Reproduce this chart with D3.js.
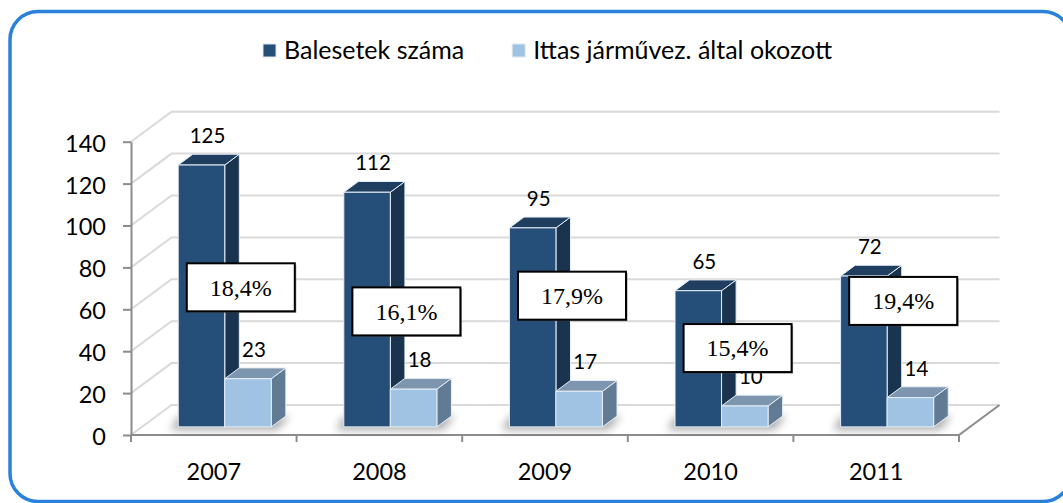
<!DOCTYPE html>
<html>
<head>
<meta charset="utf-8">
<script src="https://cdn.jsdelivr.net/npm/d3@7"></script>
<style>
  html, body { margin: 0; padding: 0; background: #fff; }
  svg { display: block; }
  text { font-family: Lato, "Open Sans", sans-serif; fill: #000; }
</style>
</head>
<body>
<svg id="chart"></svg>
<script>
// data
var years = ["2007", "2008", "2009", "2010", "2011"];
var balesetek = [125, 112, 95, 65, 72];
var ittas = [23, 18, 17, 10, 14];
var aranyok = ["18,4%", "16,1%", "17,9%", "15,4%", "19,4%"];
var aranyLevel = [70.5, 59, 66.5, 41.5, 64];   // where each % box sits, in axis units
var seriesNames = ["Balesetek száma", "Ittas járművez. által okozott"];
var yTicks = [0, 20, 40, 60, 80, 100, 120, 140];

var width = 1063, height = 503;
var plot = {left: 131, right: 959, top: 141.7, bottom: 435};
var depth = {dx: 40.5, dy: -30};      // wall depth vector
var frontF = 0.27, barF = 0.36;       // bar front position / bar depth as part of wall depth

var colors = [
  {front: "#254e78", top: "#1f3e60", side: "#1a334f"},
  {front: "#a0c3e3", top: "#7d95ae", side: "#617b94"}
];

var svg = d3.select("#chart")
  .attr("width", width)
  .attr("height", height);

var defs = svg.append("defs");
defs.append("filter").attr("id", "blur")
  .attr("x", "-20%").attr("y", "-50%").attr("width", "140%").attr("height", "200%")
  .append("feGaussianBlur").attr("stdDeviation", 4);

var x = d3.scaleBand()
  .domain(years)
  .range([plot.left, plot.right]);

var xs = d3.scaleBand()
  .domain([0, 1])
  .range([0, x.bandwidth()])
  .paddingOuter(0.78);

var y = d3.scaleLinear()
  .domain([0, 140])
  .range([plot.bottom, plot.top]);

// back wall + left wall grid
var grid = svg.append("g").attr("class", "grid");
yTicks.forEach(function(t) {
  grid.append("path")
    .attr("d", "M" + plot.left + "," + y(t) +
               "L" + (plot.left + depth.dx) + "," + (y(t) + depth.dy) +
               "L" + (plot.right + depth.dx) + "," + (y(t) + depth.dy))
    .attr("fill", "none")
    .attr("stroke", "#d9d9d9")
    .attr("stroke-width", 2);
});

// floor edges
svg.append("path")
  .attr("d", "M" + plot.left + "," + plot.bottom +
             "L" + plot.right + "," + plot.bottom +
             "L" + (plot.right + depth.dx) + "," + (plot.bottom + depth.dy))
  .attr("fill", "none")
  .attr("stroke", "#8c8c8c")
  .attr("stroke-width", 2);

// y axis
var yAxis = svg.append("g")
  .attr("class", "y axis")
  .attr("transform", "translate(" + plot.left + ",0)")
  .call(d3.axisLeft(y).tickValues(yTicks).tickSize(8).tickSizeOuter(0).tickPadding(17));
yAxis.select(".domain").attr("stroke", "#8c8c8c").attr("stroke-width", 2);
yAxis.selectAll(".tick line").attr("stroke", "#8c8c8c").attr("stroke-width", 2);
yAxis.selectAll(".tick text")
  .style("font-family", "Lato, 'Open Sans', sans-serif")
  .style("font-size", "23.5px")
  .attr("fill", "#000")
  .attr("dy", "0.4em");

// x axis: labels at band centers, tick marks at band edges
var xAxis = svg.append("g")
  .attr("class", "x axis")
  .attr("transform", "translate(0," + plot.bottom + ")")
  .call(d3.axisBottom(x).tickSize(0).tickPadding(28));
xAxis.select(".domain").remove();
xAxis.selectAll(".tick text")
  .style("font-family", "Lato, 'Open Sans', sans-serif")
  .style("font-size", "23.5px")
  .attr("fill", "#000");
var edges = years.map(function(d) { return x(d); }).concat([x(years[years.length - 1]) + x.bandwidth()]);
xAxis.selectAll(".edge")
  .data(edges)
  .enter().append("line")
  .attr("x1", function(d) { return d; })
  .attr("x2", function(d) { return d; })
  .attr("y1", 0).attr("y2", 7)
  .attr("stroke", "#8c8c8c")
  .attr("stroke-width", 2);

// bar geometry
var bw = xs.bandwidth();
var bdx = barF * depth.dx, bdy = barF * depth.dy;
function face(d, i) {
  var x0 = x(d.year) + xs(i) + frontF * depth.dx;
  return {
    x0: x0, x1: x0 + bw,
    yb: y(0) + frontF * depth.dy,
    yt: y(d.value) + frontF * depth.dy
  };
}

var rows = years.map(function(yr, k) {
  return [
    {year: yr, value: balesetek[k], s: 0},
    {year: yr, value: ittas[k], s: 1}
  ];
});

// soft floor shadows
svg.append("g").selectAll("path")
  .data(rows)
  .enter().append("path")
  .attr("d", function(r) {
    var a = face(r[0], 0), b = face(r[1], 1);
    return "M" + (a.x0 - 8) + "," + (a.yb + 3) +
           "L" + (b.x1 + 6) + "," + (a.yb + 3) +
           "L" + (b.x1 + bdx + 4) + "," + (a.yb + bdy) +
           "L" + (a.x0 + bdx - 14) + "," + (a.yb + bdy) + "Z";
  })
  .attr("fill", "#000")
  .attr("opacity", 0.32)
  .attr("filter", "url(#blur)");

var bars = svg.append("g").attr("class", "bars");
rows.forEach(function(r) {
  r.forEach(function(d) {
    var f = face(d, d.s), c = colors[d.s];
    var g = bars.append("g");
    g.append("path")
      .attr("d", "M" + f.x1 + "," + f.yt + "L" + (f.x1 + bdx) + "," + (f.yt + bdy) +
                 "L" + (f.x1 + bdx) + "," + (f.yb + bdy) + "L" + f.x1 + "," + f.yb + "Z")
      .attr("fill", c.side);
    g.append("path")
      .attr("d", "M" + f.x0 + "," + f.yt + "L" + f.x1 + "," + f.yt +
                 "L" + (f.x1 + bdx) + "," + (f.yt + bdy) + "L" + (f.x0 + bdx) + "," + (f.yt + bdy) + "Z")
      .attr("fill", c.top);
    g.append("rect")
      .attr("x", f.x0).attr("y", f.yt)
      .attr("width", bw).attr("height", f.yb - f.yt)
      .attr("fill", c.front);
    g.selectAll("path, rect")
      .attr("stroke", "#e6eef6")
      .attr("stroke-width", 1)
      .attr("stroke-linejoin", "round");
  });
});

// value labels
var labels = svg.append("g").attr("class", "labels");
rows.forEach(function(r) {
  r.forEach(function(d) {
    var f = face(d, d.s);
    labels.append("text")
      .attr("x", (f.x0 + f.x1) / 2 + 6)
      .attr("y", f.yt + bdy - 11)
      .attr("text-anchor", "middle")
      .style("font-size", "20.5px")
      .text(d.value);
  });
});

// percentage boxes
var boxW = 108, boxH = 48;
var boxes = svg.append("g").attr("class", "pct")
  .selectAll("g")
  .data(aranyok)
  .enter().append("g")
  .attr("transform", function(d, i) {
    return "translate(" + (x(years[i]) + x.bandwidth() / 2 + 27) + "," + y(aranyLevel[i]) + ")";
  });
boxes.append("rect")
  .attr("x", -boxW / 2 + 1.5).attr("y", -boxH / 2 + 1.5)
  .attr("width", boxW).attr("height", boxH)
  .attr("fill", "#555").attr("opacity", 0.6);
boxes.append("rect")
  .attr("x", -boxW / 2).attr("y", -boxH / 2)
  .attr("width", boxW).attr("height", boxH)
  .attr("fill", "#fff")
  .attr("stroke", "#000")
  .attr("stroke-width", 2);
boxes.append("text")
  .attr("text-anchor", "middle")
  .attr("dy", "0.35em")
  .style("font-family", "'Liberation Serif', 'Times New Roman', serif")
  .style("font-size", "24px")
  .attr("fill", "#111")
  .text(function(d) { return d; });

// legend
var legend = svg.append("g").attr("class", "legend");
var lx = 263;
seriesNames.forEach(function(name, i) {
  legend.append("rect")
    .attr("x", lx).attr("y", 44)
    .attr("width", 13).attr("height", 13)
    .attr("fill", colors[i].front)
    .attr("stroke", "#dfe7f0").attr("stroke-width", 1);
  var t = legend.append("text")
    .attr("x", lx + 21).attr("y", 58.5)
    .style("font-size", "25px")
    .text(name);
  lx += 21 + t.node().getComputedTextLength() + 48;
});

// outer frame
svg.append("rect")
  .attr("x", 10).attr("y", 11.5)
  .attr("width", 1061).attr("height", 490)
  .attr("rx", 28)
  .attr("fill", "none")
  .attr("stroke", "#2a80da")
  .attr("stroke-width", 3.5);
</script>
</body>
</html>
